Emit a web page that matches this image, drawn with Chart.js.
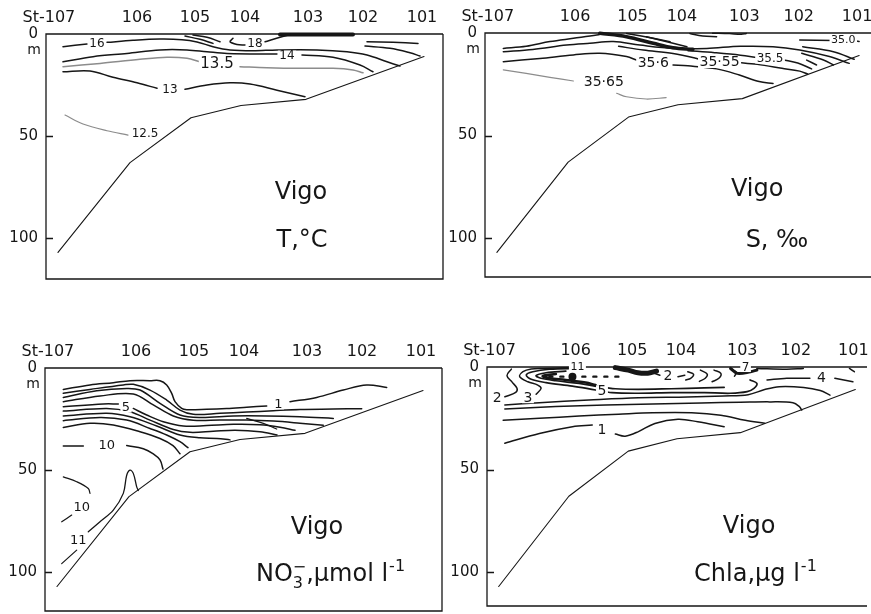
<!DOCTYPE html>
<html>
<head>
<meta charset="utf-8">
<script src="https://cdn.jsdelivr.net/npm/chart.js@4/dist/chart.umd.min.js"></script>
<style>
html,body{margin:0;padding:0;background:#fff;overflow:hidden;}
body{width:871px;height:614px;position:relative;}
canvas{position:absolute;}
</style>
</head>
<body>
<canvas id="cT" width="446" height="300" style="left:0;top:0"></canvas>
<canvas id="cS" width="435" height="300" style="left:436px;top:0"></canvas>
<canvas id="cN" width="446" height="330" style="left:0;top:305px"></canvas>
<canvas id="cC" width="435" height="330" style="left:436px;top:305px"></canvas>
<script>
// ---------- shared data ----------
const stations = ['107','106','105','104','103','102','101'];
const stationDist = [14, 91, 149, 199, 262, 317, 376];
const depthTicks = [0, 50, 100];
const bottomDist  = [12, 84, 145, 195, 260, 378];
const bottomDepth = [107, 63, 41, 35, 32, 11];

// ---------- Temperature (dist, depth m) ----------
const T_16a = [[17,6.2],[41,4.9]];
const T_16b = [[61,4.1],[87,3.1],[114,2.5],[136,2.8],[151,3.9],[167,6.2],[184,7.8],[207,8.2],[231,7.8],[271,7.8],[301,8.7],[321,10.3],[341,13.6],[354,15.7]];
const T_17a = [[139,1],[154,2.6],[167,4.6]];
const T_17b = [[147,0.5],[161,1.6],[174,3.8]];
const T_18a = [[187,2.1],[184,3.8],[191,5.1],[199,5.4]];
const T_18b = [[219,3.8],[234,1.6],[244,0.3]];
const T_19  = [[234,0.3],[307,0.3]];
const T_14a = [[17,13.6],[47,11.1],[81,9.5],[114,7.8],[141,7.8],[161,8.7],[181,9.5],[231,9.8]];
const T_14b = [[256,10.3],[287,11.4],[314,15.2],[327,18.5]];
const T_135a = [[17,16],[54,14.4],[94,12.4],[121,11.4],[141,11.9],[154,13.6]];
const T_135b = [[194,16],[221,16.5],[254,16.8],[287,16.8],[307,17.6],[317,19]];
const T_13a = [[17,18.5],[44,18.1],[67,21.2],[91,23.9],[111,26.6]];
const T_13b = [[139,27.1],[161,25],[184,23.9],[204,24.5],[231,27.5],[259,30.7]];
const T_125 = [[19,39.7],[37,44.1],[61,47.4],[82,49.5]];
const T_r1 = [[321,3.8],[347,4.1],[372,4.6]];
const T_r2 = [[319,5.9],[344,7],[364,9.2],[374,10.8]];
const T_labels = [[51,4.4,'16'],[209,4.6,'18'],[241,10.6,'14'],[171,14.6,'13.5'],[124,27.3,'13'],[99,48.7,'12.5']];

// ---------- Salinity ----------
const S_a = [[18.5,7.5],[41.6,6.5],[65.6,4.2],[89.3,2.6],[112.8,1],[119.5,0.2]];
const S_b = [[18.5,9.1],[48.3,8],[82.5,5.9],[106,5],[129.6,4.2],[156.5,5.9],[190,7.5],[224,7.5],[258,6.5],[291,6.7],[318,8.3],[348,11.5],[368,14.8]];
const S_w1 = [[116,0.1],[143,1.8],[170,5],[190,7.2],[210,8]];
const S_w2 = [[143,0.2],[170,2.6],[187,4.2]];
const S_w3 = [[163,1.8],[190,5],[204,6.7]];
const S_6a = [[18.5,14],[55.5,12.4],[89.3,10.7],[116,9.9],[143,11.5],[153,13.2]];
const S_6b = [[190,15.6],[205,16],[234,17.5],[257,20.5],[277,23.7],[291,24.6]];
const S_55a = [[135,6.5],[160,8.3],[190,10],[213,12.3],[222,13.6]];
const S_55b = [[254,14.3],[275,15.3],[300,17.2],[318,18.6],[326,20]];
const S_5a = [[205,8.6],[232,9.6],[258,10.8],[275,12]];
const S_5b = [[301,13],[316,14.6],[330,17.5]];
const S_r2 = [[321,6.7],[352,9.1],[373,12.8]];
const S_r3 = [[320,9.9],[342,13.2],[352,15.6]];
const S_r4 = [[325,13.2],[335,15.6]];
const S_0a = [[318,3.4],[352,3.7]];
const S_0b = [[372,3.7],[378,4.1]];
const S_s1 = [[207,0.2],[220,1.5],[234,1.8]];
const S_s2 = [[230,0.1],[247,0.3],[259,0.6],[264,0.2]];
const S_65a = [[18.5,18],[41.6,19.7],[65.6,21.6],[89.3,23.4]];
const S_65b = [[133,29.4],[143,31.1],[163,32.2],[183,31.5]];
const S_labels = [[170,14.8,'35·6'],[237,14.2,'35·55'],[288,12.4,'35.5'],[120,23.7,'35·65'],[362,3.4,'35.0']];

// ---------- Nitrate ----------
const N_1a = [[18.3,10.5],[45,8.3],[68.3,7.2],[85,6.2],[105,6.2],[115,6.2],[121.7,8.3],[126.7,12.4],[130,16.5],[136.7,19.8],[141.7,20.4],[161.7,20.2],[181.7,19.8],[201.7,19.2],[221.7,18.6]];
const N_1b = [[245,16.5],[271.7,14.4],[298.3,10.8],[321.7,8.3],[341.7,9.5]];
const N_2 = [[18.3,12.4],[45,10.5],[78.3,8.3],[88.3,8],[105,10.8],[121.7,15.7],[135,20.6],[148.3,22.7],[175,22.2],[201.7,21.6],[228.3,20.9],[255,20.3],[288.3,20.1],[316.7,19.9]];
const N_3 = [[18.3,14.4],[51.7,11.1],[81.7,10],[95,10.8],[115,17.3],[135,23],[155,24.2],[188.3,23.5],[221.7,23.5],[255,23.9],[288.3,24.7]];
const N_4 = [[18.3,16.5],[55,13.7],[88.3,12.7],[108.3,18.1],[128.3,23.5],[148.3,25.6],[175,25.5],[201.7,25.5],[228.3,26],[255,27],[278.3,28]];
const N_5a = [[18.3,19],[58.3,17.6],[73.3,17.6]];
const N_5b = [[88.3,19.8],[101.7,23],[118.3,26.3],[138.3,28.4],[161.7,28.2],[188.3,27.6],[215,27.8],[235,29],[250,30.5]];
const N_6 = [[18.3,21.1],[61.7,19.8],[85,21.4],[105,25.5],[128.3,30.1],[145,31.5],[168.3,31],[190,30.5],[215,31.2],[232,32.8]];
const N_7 = [[18.3,23.5],[61.7,22.2],[85,23.9],[111.7,28.4],[135,32.8],[155,34.2],[172,34.5],[185,35.2]];
const N_8 = [[18.3,25.8],[55,24.2],[81.7,25.5],[105,29.6],[121.7,32.8],[135,36.1],[143,39]];
const N_9 = [[18.3,29.1],[45,27.1],[68.3,27.9],[95,31.2],[115,34.5],[128,38],[135,42]];
const N_10a = [[18.3,38.2],[38.3,38.2]];
const N_10b = [[81.7,38],[98.3,39.5],[108.3,42],[115,45],[118,49.5]];
const N_x = [[201.7,24.7],[218.3,27.1],[231.7,29.9]];
const N_10c = [[18.3,53.3],[31.7,55.7],[43.3,59],[45,61.4]];
const N_10d = [[16.7,75.3],[26.7,72]];
const N_11a = [[43.3,80.2],[55,75.3],[68.3,69.6],[78.3,61.4],[81.7,52.5],[85,50],[88.3,51.6],[91.7,58.2],[93.3,60]];
const N_11b = [[16.7,95.8],[31.7,89.2]];
const N_labels = [[233.3,17.6,'1'],[81,19.2,'5'],[61.7,38,'10'],[36.7,68,'10'],[33.3,84.3,'11']];

// ---------- Chlorophyll ----------
const C_2 = [[25,1],[20.5,4.2],[26,7.5],[30.8,10.4],[29.5,12.4],[18.3,14.5]];
const C_3 = [[50.4,13.3],[55.5,10.4],[52.1,8.8],[42,7.2],[33.5,4.7],[36.9,2.3],[45.4,1],[57.2,0.7],[87.7,0.2]];
const C_h2 = [[94.5,0.7],[64,1.1],[47,2.3],[40.3,3.9],[45.4,6],[60.6,7.6],[87.7,9.3],[111.4,11.2],[128.3,12.5],[155.4,12.8],[189.2,12.5],[223.1,12.5],[250,12.8],[267,12],[274,10.4],[277,8],[270,6.3]];
const C_h3 = [[80.9,2],[60.6,2.8],[50.4,4.2],[55.5,5.5],[70.7,6.7],[94.5,8],[114.8,9.6],[131.7,10.6],[155.4,10.9],[189.2,10.6],[223.1,10.2],[243.4,9.9]];
const C_h4 = [[70.7,3.4],[57.2,4.4],[64,5.5],[80.9,6.3],[101.2,7.6],[111.4,8.8]];
const C_core = [[64,4.7],[135,4.7]];
const C_peak = [[87.7,4.7]];
const C_blob = [[131.7,0.3],[145,1.5],[155,2.8],[165,3],[174,2]];
const C_2l = [[168.9,2.6],[177.4,4]];
const C_2r = [[196,4.7],[203,4]];
const C_a1 = [[206,2.3],[212,3.5],[209,5.5],[204,6.3]];
const C_a2 = [[219,1.5],[226,3.5],[224,5.5],[218,7]];
const C_a3 = [[233,1.5],[240,3.1],[238,5.5],[231,7.2]];
const C_a4 = [[250,1],[256,2.6],[254,4.5]];
const C_7 = [[250,0.7],[257,3.1],[270.5,2.3],[277,1.5]];
const C_s = [[277,0.7],[307.7,1.1],[324.6,0.7]];
const C_4a = [[287.4,6.3],[307.7,5.5],[331.4,5.5]];
const C_4b = [[357,5.5],[375.5,7.2]];
const C_tr = [[372,0.7],[377,2.3]];
const C_D1 = [[18.3,18.5],[53.8,17.4],[104.6,16.1],[155.4,15],[206,14.6],[243,14.1],[268,13.5],[285,11],[300,9.6],[325,10],[342,11.5],[352,13.7]];
const C_D2 = [[18.3,20.5],[70.7,19.3],[121.5,18.5],[170,18],[220,17.5],[260,17.2],[290,17],[314,17.4],[320.6,19.3],[323,21]];
const C_D3 = [[16.6,25.9],[53.8,25],[94.5,23.9],[135,23],[170,22.3],[210,22.3],[240,23.5],[265,26],[285,27.4]];
const C_1a = [[18.3,37.2],[53.8,32.4],[87.7,29.1],[108,28.3]];
const C_1b = [[131.7,32.7],[141.8,33.7],[155.4,31.5],[172.3,27.5],[196,25.5],[216.3,26.7],[243.4,29.1]];
const C_labels = [[10.5,14.8,'2'],[42,14.8,'3'],[118,11.8,'5'],[92.8,0,'11'],[185.8,4.3,'2'],[265.4,0,'7'],[343.3,5.5,'4'],[118,30.7,'1']];

// ---------- styling & layout ----------
const FONT = '"DejaVu Sans", "Liberation Sans", sans-serif';
const INK = '#161616';
const GREY = '#8c8c8c';

const panels = [
  { id:'cT', w:446, h:300, plot:{l:46,t:34,r:443,b:279}, xMax:397, yMax:120, rightBorder:true,
    lines:[{p:T_16a},{p:T_16b},{p:T_17a},{p:T_17b},{p:T_18a},{p:T_18b},{p:T_19,w:4},
           {p:T_14a},{p:T_14b},{p:T_135a,c:GREY},{p:T_135b,c:GREY},{p:T_13a},{p:T_13b},
           {p:T_125,c:GREY,w:1.2},{p:T_r1},{p:T_r2}],
    labels:T_labels, labelSize:12, labelBig:{'13.5':15},
    vigo:[255,78], title:[256,100], parts:[{t:'T,°C'}] },
  { id:'cS', w:435, h:300, plot:{l:49,t:33,r:435,b:277}, xMax:390, yMax:119, rightBorder:false,
    lines:[{p:S_a},{p:S_b},{p:S_w1,w:3.6},{p:S_w2},{p:S_w3},{p:S_6a},{p:S_6b},{p:S_55a},{p:S_55b},
           {p:S_5a},{p:S_5b},{p:S_r2},{p:S_r3},{p:S_r4},{p:S_0a},{p:S_0b},{p:S_s1},{p:S_s2},
           {p:S_65a,c:GREY,w:1.2},{p:S_65b,c:GREY,w:1.2}],
    labels:S_labels, labelSize:14, labelBig:{'35.5':12,'35.0':11},
    vigo:[275,76.6], title:[295,100], parts:[{t:'S, ‰'}] },
  { id:'cN', w:446, h:330, plot:{l:45,t:63,r:442,b:306}, xMax:397, yMax:119, rightBorder:true,
    lines:[{p:N_1a},{p:N_1b},{p:N_2},{p:N_3},{p:N_4},{p:N_5a},{p:N_5b},{p:N_6},{p:N_7},{p:N_8},{p:N_9},
           {p:N_10a},{p:N_10b},{p:N_x,w:1.2},{p:N_10c,w:1.2},{p:N_10d,w:1.2},{p:N_11a,w:1.3},{p:N_11b,w:1.2}],
    labels:N_labels, labelSize:13, labelBig:{},
    vigo:[272,78.4], title:[285,100],
    parts:[{t:'NO'},{t:'3',sub:true,over:'−'},{t:',μmol l'},{t:'-1',sup:true}] },
  { id:'cC', w:435, h:330, plot:{l:51,t:62,r:435,b:301}, xMax:390, yMax:116.5, rightBorder:false,
    lines:[{p:C_2},{p:C_3},{p:C_h2,w:1.7},{p:C_h3,w:1.7},{p:C_h4,w:2.6},{p:C_core,w:2.4,dash:[3,8],t:0},
           {p:C_peak,pr:4},{p:C_blob,w:5},{p:C_2l},{p:C_2r},{p:C_a1},{p:C_a2},{p:C_a3},{p:C_a4},
           {p:C_7,w:3},{p:C_s},{p:C_4a},{p:C_4b},{p:C_tr},{p:C_D1},{p:C_D2},{p:C_D3},{p:C_1a},{p:C_1b}],
    labels:C_labels, labelSize:14, labelBig:{'11':11,'7':12},
    vigo:[269,78], title:[275,100],
    parts:[{t:'Chla,μg l'},{t:'-1',sup:true}] }
];

function makeDataset(pts, st){
  return {
    data: pts.map(([x,y]) => ({x, y})),
    borderColor: st.c || INK,
    borderWidth: st.w || 1.5,
    borderDash: st.dash || [],
    pointRadius: st.pr || 0,
    pointBackgroundColor: INK,
    pointBorderWidth: 0,
    showLine: !st.pr,
    tension: st.t !== undefined ? st.t : 0.35,
    fill: false,
    clip: false,
    borderCapStyle: 'round',
    borderJoinStyle: 'round'
  };
}

function drawRich(ctx, parts, cx, cy, size){
  const small = Math.round(size*0.66);
  const widths = parts.map(p => {
    ctx.font = `${(p.sub||p.sup)?small:size}px ${FONT}`;
    let w = ctx.measureText(p.t).width;
    if (p.over) w = Math.max(w, ctx.measureText(p.over).width);
    return w;
  });
  const total = widths.reduce((a,b)=>a+b,0);
  let x = cx - total/2;
  const base = cy + size*0.36;
  ctx.textAlign = 'left'; ctx.textBaseline = 'alphabetic';
  parts.forEach((p,i) => {
    if (p.sub) {
      ctx.font = `${small}px ${FONT}`;
      ctx.fillText(p.t, x, base + size*0.28);
      if (p.over) ctx.fillText(p.over, x, base - size*0.36);
    } else if (p.sup) {
      ctx.font = `${small}px ${FONT}`;
      ctx.fillText(p.t, x + 1, base - size*0.42);
    } else {
      ctx.font = `${size}px ${FONT}`;
      ctx.fillText(p.t, x, base);
    }
    x += widths[i];
  });
}

function decor(P){
  return {
    id: 'decor',
    beforeDatasetsDraw(chart){
      const {ctx, chartArea:a, scales:{y}} = chart;
      ctx.save();
      ctx.strokeStyle = INK; ctx.lineWidth = 1.3;
      ctx.beginPath();
      ctx.moveTo(a.right, a.top); ctx.lineTo(a.left, a.top); ctx.lineTo(a.left, a.bottom); ctx.lineTo(a.right, a.bottom);
      if (P.rightBorder) { ctx.lineTo(a.right, a.top); }
      depthTicks.forEach(v => {
        if (v === 0) return;
        const py = Math.round(y.getPixelForValue(v)) + 0.5;
        ctx.moveTo(a.left, py); ctx.lineTo(a.left + 7, py);
      });
      ctx.stroke();
      ctx.restore();
    },
    afterDatasetsDraw(chart){
      const {ctx, chartArea:a, scales:{x, y}} = chart;
      ctx.save();
      ctx.fillStyle = INK;
      // contour labels
      P.labels.forEach(([lx, ly, txt]) => {
        const size = P.labelBig[txt] || P.labelSize;
        ctx.font = `${size}px ${FONT}`;
        const px = x.getPixelForValue(lx), py = y.getPixelForValue(ly);
        const w = ctx.measureText(txt).width;
        ctx.fillStyle = '#fff';
        ctx.fillRect(px - w/2 - 1.5, py - size*0.42, w + 3, size*0.84);
        ctx.fillStyle = INK;
        ctx.textAlign = 'center'; ctx.textBaseline = 'middle';
        ctx.fillText(txt, px, py + 0.5);
      });
      // station labels along the top
      ctx.font = `16px ${FONT}`;
      ctx.textBaseline = 'middle';
      stations.forEach((s, i) => {
        const px = x.getPixelForValue(stationDist[i]);
        const py = a.top - 16;
        if (i === 0) {
          const wNum = ctx.measureText(s).width;
          const pre = 'St-';
          const wPre = ctx.measureText(pre).width;
          ctx.textAlign = 'left';
          ctx.fillText(pre + s, px - wNum/2 - wPre, py);
        } else {
          ctx.textAlign = 'center';
          ctx.fillText(s, px, py);
        }
      });
      // depth unit
      ctx.font = `14px ${FONT}`;
      ctx.textAlign = 'center';
      ctx.fillText('m', a.left - 12, a.top + 16);
      // panel titles
      ctx.font = `24px ${FONT}`;
      ctx.textBaseline = 'middle';
      ctx.fillText('Vigo', x.getPixelForValue(P.vigo[0]), y.getPixelForValue(P.vigo[1]));
      drawRich(ctx, P.parts, x.getPixelForValue(P.title[0]), y.getPixelForValue(P.title[1]), 24);
      ctx.restore();
    }
  };
}

panels.forEach(P => {
  const datasets = [makeDataset(bottomDist.map((d,i)=>[d, bottomDepth[i]]), {w:1.1, t:0})];
  P.lines.forEach(L => datasets.push(makeDataset(L.p, L)));
  new Chart(document.getElementById(P.id), {
    type: 'scatter',
    data: { datasets },
    options: {
      responsive: false,
      animation: false,
      devicePixelRatio: 1,
      events: [],
      layout: { padding: { left: 0, top: P.plot.t, right: P.w - P.plot.r, bottom: P.h - P.plot.b } },
      scales: {
        x: { type: 'linear', display: false, min: 0, max: P.xMax },
        y: {
          type: 'linear', reverse: true, min: 0, max: P.yMax, position: 'left',
          afterFit: s => { s.width = P.plot.l; },
          afterBuildTicks: s => { s.ticks = depthTicks.map(v => ({value: v})); },
          ticks: { color: INK, font: { family: FONT, size: 15 }, padding: 8, autoSkip: false,
                   callback: v => String(v) },
          grid: { display: false, drawTicks: false },
          border: { display: false }
        }
      },
      plugins: { legend: { display: false }, tooltip: { enabled: false } }
    },
    plugins: [decor(P)]
  });
});
</script>
</body>
</html>
